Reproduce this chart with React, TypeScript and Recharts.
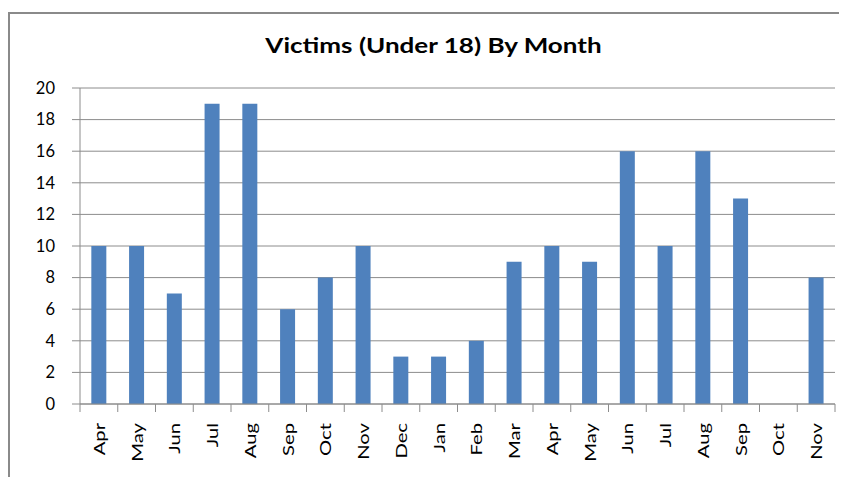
import { BarChart, Bar, XAxis, YAxis, CartesianGrid } from "recharts"

const months = ["Apr", "May", "Jun", "Jul", "Aug", "Sep", "Oct", "Nov", "Dec", "Jan", "Feb", "Mar", "Apr", "May", "Jun", "Jul", "Aug", "Sep", "Oct", "Nov"]
const victims = [10, 10, 7, 19, 19, 6, 8, 10, 3, 3, 4, 9, 10, 9, 16, 10, 16, 13, 0, 8]
const yTicks = [0, 2, 4, 6, 8, 10, 12, 14, 16, 18, 20]

const data = months.map((m, i) => ({ key: i, month: m, victims: victims[i] }))

const W = 839
const H = 469
const M = { top: 80, right: 12, left: 0, bottom: 0 }
const Y_W = 72
const band = (W - M.left - M.right - Y_W) / months.length
const FONT = "Lato, 'Open Sans', sans-serif"

// month label, rotated, with tick marks at the category edges (Excel style)
const MonthTick = (props: any) => {
  const { x, y, payload, index } = props
  const last = index === months.length - 1
  return (
    <g>
      <line x1={x - band / 2} x2={x - band / 2} y1={y} y2={y + 8} stroke="#8c8c8c" />
      {last && <line x1={x + band / 2} x2={x + band / 2} y1={y} y2={y + 8} stroke="#8c8c8c" />}
      <text x={0} y={0} transform={`translate(${x}, ${y + 19}) rotate(-90) scale(1.35, 1)`} textAnchor="end"
        dominantBaseline="central" fontSize={15} fill="#000" fontFamily={FONT}>
        {months[payload.value]}
      </text>
    </g>
  )
}

export default function App() {
  return (
    <div style={{ position: "relative", width: W, height: H, overflow: "hidden", background: "#fff" }}>
      <div style={{ position: "absolute", left: 0, top: 4, width: 1000, height: 1000, border: "2px solid #8a8a8a" }} />
      <div style={{ position: "absolute", left: 0, top: 0 }}>
        <BarChart width={W} height={H} data={data} margin={M} barCategoryGap="30%">
          <text x={0} y={0} transform="translate(425.5, 45) scale(1.24, 1)" textAnchor="middle" fontSize={21}
            fontWeight={700} fontFamily={FONT} fill="#000">
            Victims (Under 18) By Month
          </text>
          <CartesianGrid vertical={false} stroke="#8c8c8c" strokeWidth={1} />
          <XAxis dataKey="key" interval={0} height={73} tickSize={0} tickMargin={0} tickLine={false}
            axisLine={{ stroke: "#8c8c8c" }} tick={<MonthTick />} />
          <YAxis width={Y_W} domain={[0, 20]} ticks={yTicks} interval={0} tickSize={8} tickMargin={17}
            axisLine={{ stroke: "#8c8c8c" }} tickLine={{ stroke: "#8c8c8c" }}
            tick={{ fontSize: 16.5, fill: "#000", fontFamily: FONT }} />
          <Bar dataKey="victims" fill="#4f81bd" isAnimationActive={false} />
        </BarChart>
      </div>
    </div>
  )
}
